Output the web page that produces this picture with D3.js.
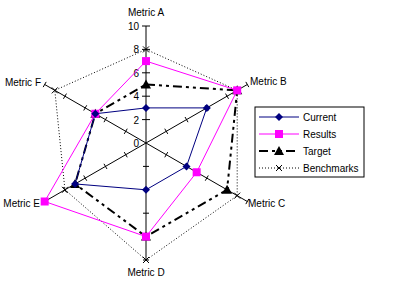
<!DOCTYPE html>
<html>
<head>
<meta charset="utf-8">
<script src="https://cdn.jsdelivr.net/npm/d3@7"></script>
<style>
  body { margin: 0; background: #fff; }
  text { font-family: "Liberation Sans", Arial, sans-serif; font-size: 10px; fill: #000; }
</style>
</head>
<body>
<div id="canvas"></div>
<script>
const metrics = ["Metric A", "Metric B", "Metric C", "Metric D", "Metric E", "Metric F"];
const current = [3, 6, 4, 4, 7, 5];
const results = [7, 9, 5, 8, 10, 5];
const target = [5, 9, 8, 8, 7, 5];
const benchmarks = [8, 9, 9, 10, 8, 9];
const tickValues = [0, 2, 4, 6, 8, 10];

const width = 414, height = 291;
const cx = 146, cy = 143;

const svg = d3.select("#canvas").append("svg")
    .attr("width", width).attr("height", height);
const g = svg.append("g").attr("transform", `translate(${cx},${cy})`);

const r = d3.scaleLinear().domain([0, 10]).range([0, 117]);
const ang = d3.scalePoint().domain(metrics).range([0, 2 * Math.PI * 5 / 6]);

const pt = (m, v) => [Math.sin(ang(m)) * r(v), -Math.cos(ang(m)) * r(v)];

// spokes with tick marks
metrics.forEach(m => {
    const [x, y] = pt(m, 10);
    g.append("line").attr("x1", 0).attr("y1", 0).attr("x2", x).attr("y2", y)
        .attr("stroke", "#000").attr("stroke-width", 1);
    const a = ang(m);
    const px = Math.cos(a), py = Math.sin(a);
    tickValues.slice(1).forEach(t => {
        const [tx, ty] = pt(m, t);
        const len = m === "Metric A" ? 4 : 3;
        g.append("line")
            .attr("x1", tx - px * len).attr("y1", ty - py * len)
            .attr("x2", tx + px * len).attr("y2", ty + py * len)
            .attr("stroke", "#000");
    });
});

// value labels on axis A
g.selectAll(".tlab").data(tickValues).enter().append("text")
    .attr("class", "tlab")
    .attr("x", -7).attr("y", d => -r(d) + 4)
    .attr("text-anchor", "end")
    .text(d => d);

// category labels
const labelPos = {
    "Metric A": [0, -127, "middle"],
    "Metric B": [104, -58, "start"],
    "Metric C": [102, 64, "start"],
    "Metric D": [0, 133, "middle"],
    "Metric E": [-106, 64, "end"],
    "Metric F": [-105, -57, "end"]
};
metrics.forEach(m => {
    const [x, y, anchor] = labelPos[m];
    g.append("text").attr("x", x).attr("y", y).attr("text-anchor", anchor).text(m);
});

const line = d3.lineRadial()
    .angle((d, i) => ang(metrics[i]))
    .radius(d => r(d))
    .curve(d3.curveLinearClosed);

const series = [
    { name: "Current", data: current, color: "#000080", width: 1, dash: null, marker: "diamond" },
    { name: "Results", data: results, color: "#ff00ff", width: 1, dash: null, marker: "square" },
    { name: "Target", data: target, color: "#000", width: 2, dash: "9,4,3,4,3,4", marker: "triangle" },
    { name: "Benchmarks", data: benchmarks, color: "#000", width: 1, dash: "1,2", marker: "x" }
];

function drawMarker(sel, type, color, x, y) {
    if (type === "diamond") {
        sel.append("path").attr("d", "M0,-4L4,0L0,4L-4,0Z")
            .attr("transform", `translate(${x},${y})`).attr("fill", color);
    } else if (type === "square") {
        sel.append("rect").attr("x", x - 4).attr("y", y - 4).attr("width", 8).attr("height", 8)
            .attr("fill", color);
    } else if (type === "triangle") {
        sel.append("path").attr("d", "M0,-5L5,4L-5,4Z")
            .attr("transform", `translate(${x},${y})`).attr("fill", color);
    } else {
        sel.append("path").attr("d", "M-3,-3L3,3M-3,3L3,-3")
            .attr("transform", `translate(${x},${y})`).attr("stroke", color).attr("fill", "none");
    }
}

series.slice().reverse().forEach(s => {
    g.append("path").datum(s.data)
        .attr("d", line)
        .attr("fill", "none")
        .attr("stroke", s.color)
        .attr("stroke-width", s.width)
        .attr("stroke-dasharray", s.dash);
});
series.slice().reverse().forEach(s => {
    s.data.forEach((v, i) => {
        const [x, y] = pt(metrics[i], v);
        drawMarker(g, s.marker, s.color, x, y);
    });
});

// legend
const lg = svg.append("g").attr("transform", "translate(255,107)");
lg.append("rect").attr("width", 109).attr("height", 70)
    .attr("fill", "#fff").attr("stroke", "#000");
series.forEach((s, i) => {
    const y = 10 + i * 17;
    lg.append("line").attr("x1", 4).attr("x2", 44).attr("y1", y).attr("y2", y)
        .attr("stroke", s.color).attr("stroke-width", s.width).attr("stroke-dasharray", s.dash);
    drawMarker(lg, s.marker, s.color, 24, y);
    lg.append("text").attr("x", 48).attr("y", y + 4).text(s.name);
});
</script>
</body>
</html>
